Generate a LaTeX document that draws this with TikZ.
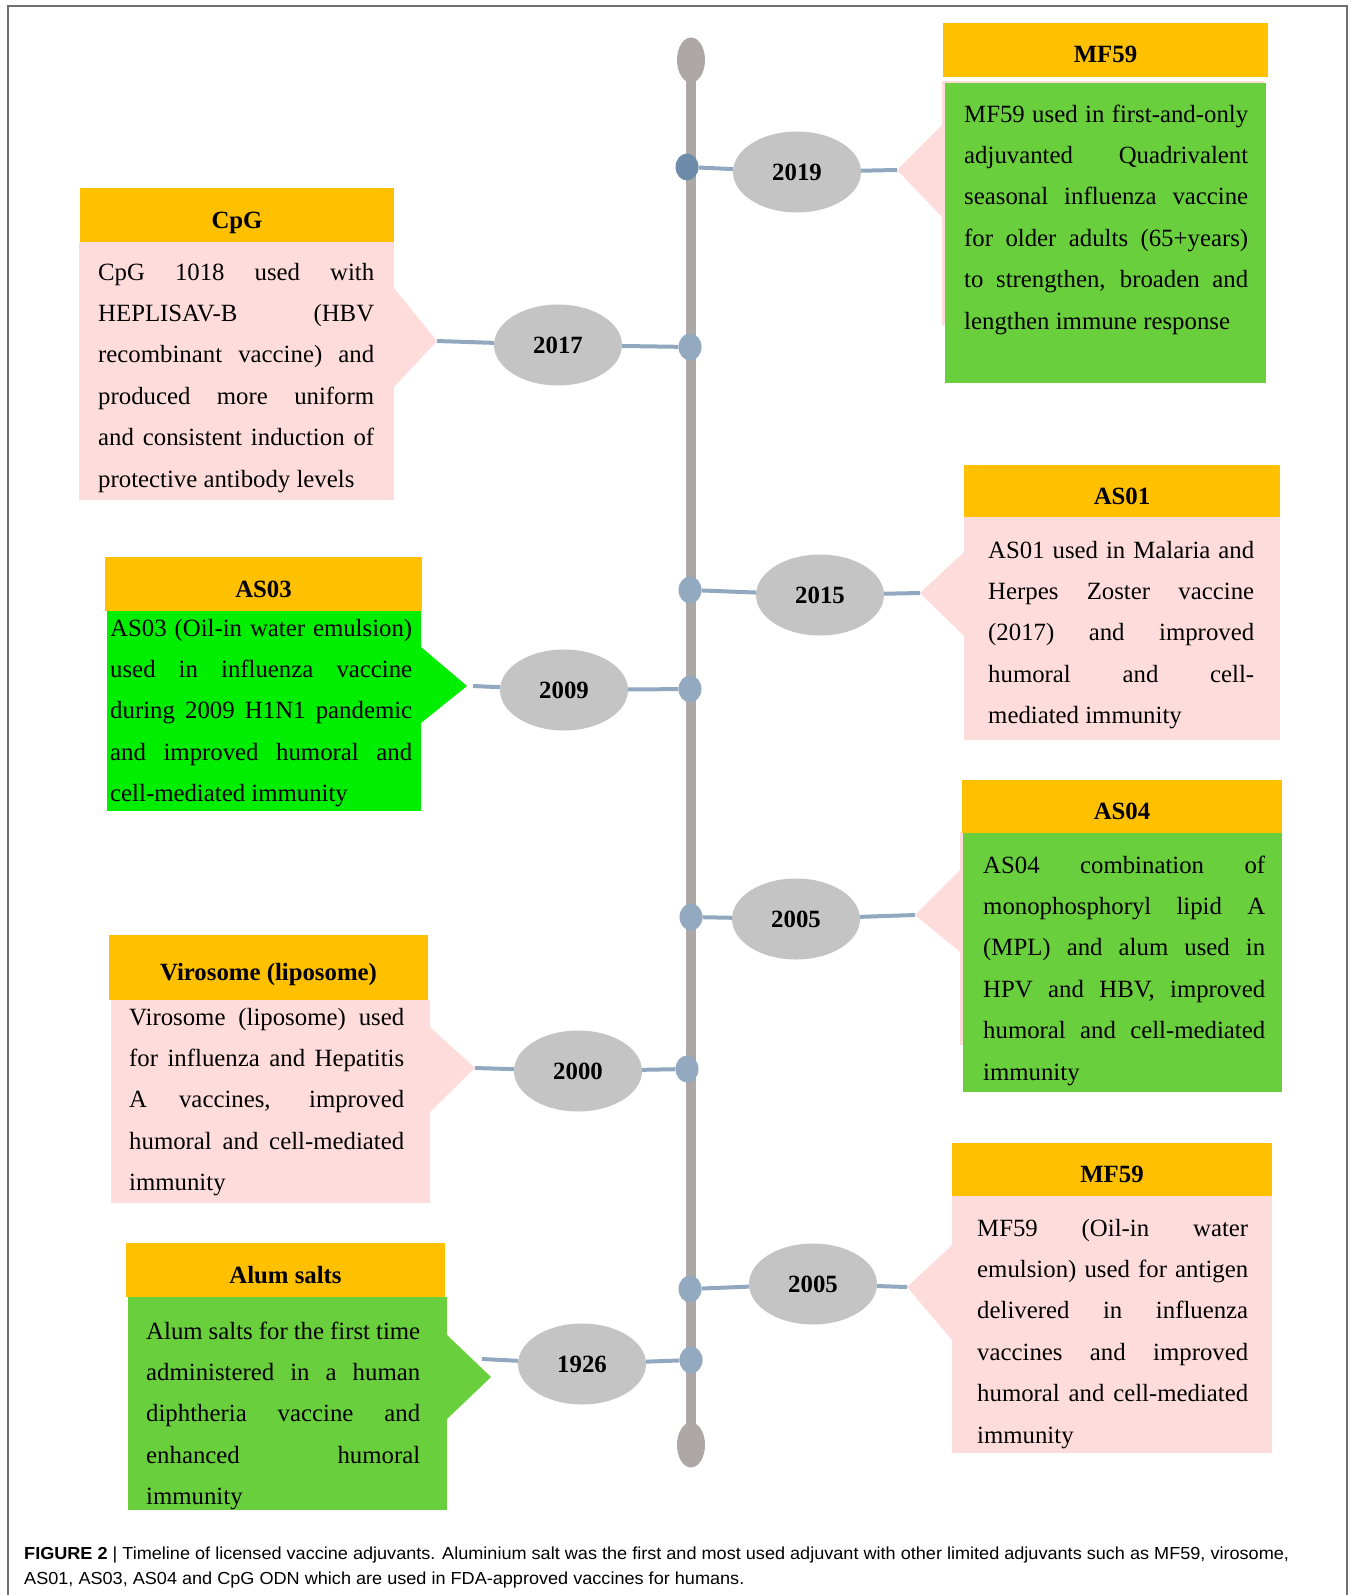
\documentclass[tikz,border=0pt]{standalone}
\usepackage{fontspec}
\setmainfont{Liberation Serif}
\setsansfont{Liberation Sans}[FakeStretch=1.04]
\usetikzlibrary{shapes.geometric}
\definecolor{headorange}{HTML}{FFC000}
\definecolor{calloutpink}{HTML}{FFDCDC}
\definecolor{leafgreen}{HTML}{6ACF3C}
\definecolor{brightgreen}{HTML}{00EE00}
\definecolor{yeargray}{HTML}{C4C4C4}
\definecolor{stemgray}{HTML}{ADA7A7}
\definecolor{dotblue}{HTML}{93A9BF}
\definecolor{darkdot}{HTML}{6E8CAA}
\definecolor{linkblue}{HTML}{91A8C0}
\definecolor{framegray}{HTML}{6F6F6F}
\newcommand{\boxfont}{\fontsize{24.8}{41.4}\selectfont}
\hbadness=10000
\hyphenpenalty=10000
\exhyphenpenalty=10000

\begin{document}
\begin{tikzpicture}[x=1pt, y=-1pt,
  head/.style={rectangle, fill=headorange, inner sep=0pt, font=\boxfont\bfseries,
    text height=26pt, text depth=0pt},
  pinkbox/.style={rectangle, fill=calloutpink, inner sep=0pt, anchor=north west},
  greenbox/.style={rectangle, fill=leafgreen, inner sep=0pt, anchor=north west},
  blurb/.style={anchor=north west, inner sep=0pt, align=justify, font=\boxfont},
  year/.style={ellipse, fill=yeargray, minimum width=128pt, minimum height=81pt, inner sep=0pt,
    font=\boxfont\bfseries, text height=17pt, text depth=0pt},
  stud/.style={ellipse, fill=dotblue, minimum width=23pt, minimum height=27pt, inner sep=0pt},
  endcap/.style={ellipse, fill=stemgray, minimum width=28pt, minimum height=45pt, inner sep=0pt},
  link/.style={draw=linkblue, line width=4pt}
]
  \useasboundingbox (0,0) rectangle (1356,1595);
  \draw[framegray, line width=1.5pt] (8,1595) -- (8,6) -- (1347,6) -- (1347,1595);

  % callout tips
  \coordinate (mf19tip) at (897,170);
  \coordinate (cpgtip) at (437,341);
  \coordinate (as01tip) at (920,593);
  \coordinate (as03tip) at (467,686);
  \coordinate (as03end) at (473,686);
  \coordinate (as04tip) at (915,915);
  \coordinate (virotip) at (475,1068);
  \coordinate (mf05tip) at (907,1287);
  \coordinate (alumtip) at (491,1377);
  \coordinate (alumend) at (482,1359);

  % MF59 2019
  \node[pinkbox, minimum width=322pt, minimum height=244pt] (mf19back) at (942,81) {};
  \fill[calloutpink] (942,125) -- (mf19tip) -- (942,217) -- cycle;
  \node[greenbox, minimum width=321pt, minimum height=300pt] (mf19box) at (945,83) {};
  \node[head, minimum width=325pt, minimum height=54pt] (mf19head) at (1105.5,50) {MF59};
  \node[blurb, text width=284pt] (mf19text) at (964,93) {\strut MF59 used in first-and-only\linebreak
    adjuvanted Quadrivalent\linebreak seasonal influenza vaccine\linebreak for older adults (65+years)\linebreak
    to strengthen, broaden and\linebreak lengthen immune response};

  % CpG
  \node[pinkbox, minimum width=315pt, minimum height=258pt] (cpgbox) at (79,242) {};
  \fill[calloutpink] (394,288) -- (cpgtip) -- (394,387) -- cycle;
  \node[head, minimum width=314pt, minimum height=54pt] (cpghead) at (237,215) {CpG};
  \node[blurb, text width=276pt] (cpgtext) at (98,251) {\strut CpG 1018 used with\linebreak
    HEPLISAV-B (HBV\linebreak recombinant vaccine) and\linebreak produced more uniform\linebreak
    and consistent induction of\linebreak protective antibody levels};

  % AS01
  \node[pinkbox, minimum width=316pt, minimum height=223pt] (as01box) at (964,517) {};
  \fill[calloutpink] (964,552) -- (as01tip) -- (964,636) -- cycle;
  \node[head, minimum width=316pt, minimum height=52pt] (as01head) at (1122,491) {AS01};
  \node[blurb, text width=266pt] (as01text) at (988,529) {\strut AS01 used in Malaria and\linebreak
    Herpes Zoster vaccine\linebreak (2017) and improved\linebreak humoral and cell-\linebreak
    mediated immunity};

  % AS03
  \node[rectangle, fill=brightgreen, inner sep=0pt, anchor=north west, minimum width=314pt,
    minimum height=200pt] (as03box) at (107,611) {};
  \fill[brightgreen] (421,647) -- (as03tip) -- (421,723) -- cycle;
  \node[head, minimum width=317pt, minimum height=54pt] (as03head) at (263.5,584) {AS03};
  \node[blurb, text width=302pt] (as03text) at (110,607) {\strut AS03 (Oil-in water emulsion)\linebreak
    used in influenza vaccine\linebreak during 2009 H1N1 pandemic\linebreak and improved humoral and\linebreak
    cell-mediated immunity};

  % AS04
  \node[pinkbox, minimum width=318pt, minimum height=213pt] (as04back) at (960,832) {};
  \fill[calloutpink] (960,870) -- (as04tip) -- (960,952) -- cycle;
  \node[greenbox, minimum width=319pt, minimum height=259pt] (as04box) at (963,833) {};
  \node[head, minimum width=320pt, minimum height=53pt] (as04head) at (1122,806.5) {AS04};
  \node[blurb, text width=282pt] (as04text) at (983,844) {\strut AS04 combination of\linebreak
    monophosphoryl lipid A\linebreak (MPL) and alum used in\linebreak HPV and HBV, improved\linebreak
    humoral and cell-mediated\linebreak immunity};

  % Virosome
  \node[pinkbox, minimum width=319pt, minimum height=203pt] (virobox) at (111,1000) {};
  \fill[calloutpink] (430,1027) -- (virotip) -- (430,1112) -- cycle;
  \node[head, minimum width=319pt, minimum height=65pt] (virohead) at (268.5,967.5) {Virosome (liposome)};
  \node[blurb, text width=275pt] (virotext) at (129,996) {\strut Virosome (liposome) used\linebreak
    for influenza and Hepatitis\linebreak A vaccines, improved\linebreak humoral and cell-mediated\linebreak
    immunity};

  % MF59 2005
  \node[pinkbox, minimum width=320pt, minimum height=257pt] (mf05box) at (952,1196) {};
  \fill[calloutpink] (952,1245) -- (mf05tip) -- (952,1340) -- cycle;
  \node[head, minimum width=320pt, minimum height=53pt] (mf05head) at (1112,1169.5) {MF59};
  \node[blurb, text width=271pt] (mf05text) at (977,1207) {\strut MF59 (Oil-in water\linebreak
    emulsion) used for antigen\linebreak delivered in influenza\linebreak vaccines and improved\linebreak
    humoral and cell-mediated\linebreak immunity};

  % Alum salts
  \node[greenbox, minimum width=319pt, minimum height=213pt] (alumbox) at (128,1297) {};
  \fill[leafgreen] (447,1335) -- (alumtip) -- (447,1419) -- cycle;
  \node[head, minimum width=319pt, minimum height=54pt] (alumhead) at (285.5,1270) {Alum salts};
  \node[blurb, text width=274pt] (alumtext) at (146,1310) {\strut Alum salts for the first time\linebreak
    administered in a human\linebreak diphtheria vaccine and\linebreak enhanced humoral\linebreak
    immunity};

  % timeline
  \node[endcap] (top) at (691,60) {};
  \node[endcap] (bottom) at (691,1445) {};
  \draw[stemgray, line width=10pt] (top.center) -- (bottom.center);

  \node[stud, fill=darkdot] (d2019) at (687,167) {};
  \node[stud] (d2017) at (690,347) {};
  \node[stud] (d2015) at (690,590) {};
  \node[stud] (d2009) at (690,689) {};
  \node[stud] (d2005a) at (691,917) {};
  \node[stud] (d2000) at (687,1069) {};
  \node[stud] (d2005b) at (690,1289) {};
  \node[stud] (d1926) at (691,1360) {};

  \node[year] (y2019) at (797,172) {2019};
  \node[year] (y2017) at (558,345) {2017};
  \node[year] (y2015) at (820,595) {2015};
  \node[year] (y2009) at (564,690) {2009};
  \node[year] (y2005a) at (796,919) {2005};
  \node[year] (y2000) at (578,1071) {2000};
  \node[year] (y2005b) at (813,1284) {2005};
  \node[year] (y1926) at (582,1364) {1926};

  \draw[link] (d2019) -- (y2019);
  \draw[link] (y2019) -- (mf19tip);
  \draw[link] (d2017) -- (y2017);
  \draw[link] (y2017) -- (cpgtip);
  \draw[link] (d2015) -- (y2015);
  \draw[link] (y2015) -- (as01tip);
  \draw[link] (d2009) -- (y2009);
  \draw[link] (y2009) -- (as03end);
  \draw[link] (d2005a) -- (y2005a);
  \draw[link] (y2005a) -- (as04tip);
  \draw[link] (d2000) -- (y2000);
  \draw[link] (y2000) -- (virotip);
  \draw[link] (d2005b) -- (y2005b);
  \draw[link] (y2005b) -- (mf05tip);
  \draw[link] (d1926) -- (y1926);
  \draw[link] (y1926) -- (alumend);

  % caption
  \node[anchor=north west, inner sep=0pt, align=left, font=\sffamily\fontsize{17.4}{25}\selectfont]
    (caption) at (24,1541.5) {\strut\textbf{FIGURE 2} | Timeline of licensed vaccine adjuvants. Aluminium salt was the first and most used adjuvant with other limited adjuvants such as MF59, virosome,\\
    AS01, AS03, AS04 and CpG ODN which are used in FDA-approved vaccines for humans.};
\end{tikzpicture}
\end{document}
